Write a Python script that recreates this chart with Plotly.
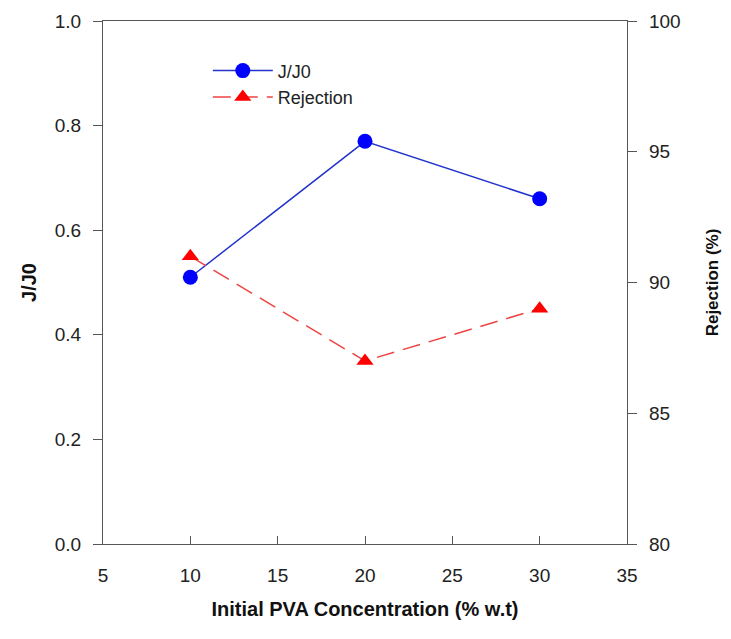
import plotly.graph_objects as go

conc = [10, 20, 30]
j_j0 = [0.51, 0.77, 0.66]
rejection = [91, 87, 89]

fig = go.Figure()
fig.add_trace(go.Scatter(
    x=conc, y=j_j0, name="J/J0", mode="lines+markers",
    line=dict(color="#2233cc", width=1.5),
    marker=dict(color="#0000ff", size=15, symbol="circle"),
))
fig.add_trace(go.Scatter(
    x=conc, y=rejection, name="Rejection", mode="lines+markers", yaxis="y2",
    line=dict(color="#ee4444", width=1.5, dash="18px,9px"),
    marker=dict(color="#ff0000", size=15, symbol="triangle-up"),
))

FAM = "Liberation Sans, Arial, sans-serif"
axis_font = dict(family=FAM, size=19, color="#222")
title_font = dict(family=FAM, size=20, color="#111")

fig.update_layout(
    width=731, height=639,
    margin=dict(l=103, r=104, t=21, b=95),
    paper_bgcolor="white", plot_bgcolor="white",
    font=axis_font,
    showlegend=True,
    legend=dict(x=0.2, y=0.94, xanchor="left", yanchor="top",
                bgcolor="rgba(0,0,0,0)", font=dict(family=FAM, size=18, color="#222"),
                tracegroupgap=0, itemwidth=60),
    xaxis=dict(range=[5, 35], tickvals=[5, 10, 15, 20, 25, 30, 35],
               showline=True, linecolor="#555", linewidth=1.2, mirror=True,
               ticks="inside", ticklen=8, tickcolor="#555", showgrid=False, zeroline=False,
               ticklabelstandoff=14,
               title=dict(text="<b>Initial PVA Concentration (% w.t)</b>", font=title_font, standoff=17),
               tickfont=axis_font),
    yaxis=dict(range=[0, 1.0], tickvals=[0, 0.2, 0.4, 0.6, 0.8, 1.0], tickformat=".1f",
               showline=True, linecolor="#555", linewidth=1.2,
               ticks="outside", ticklen=9, tickcolor="#555", showgrid=False, zeroline=False,
               ticklabelstandoff=8,
               title=dict(text="<b>J/J0</b>", font=title_font, standoff=12),
               tickfont=axis_font),
    yaxis2=dict(range=[80, 100], tickvals=[80, 85, 90, 95, 100], overlaying="y", side="right",
                showline=True, linecolor="#555", linewidth=1.2,
                ticks="outside", ticklen=9, tickcolor="#555", showgrid=False, zeroline=False,
                ticklabelstandoff=8,
                title=dict(text="<b>Rejection (%)</b>", font=dict(family=FAM, size=17, color="#111"), standoff=26),
                tickfont=axis_font),
)

fig.write_html("out.html")
